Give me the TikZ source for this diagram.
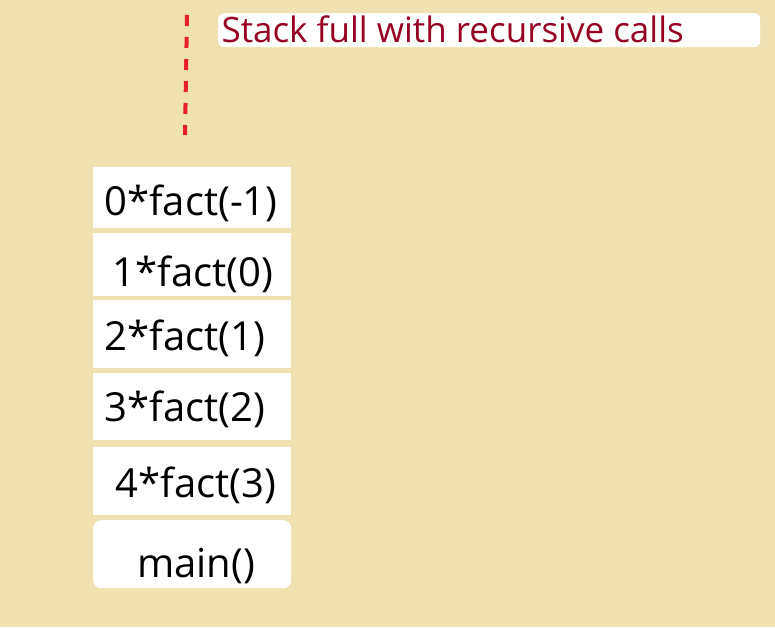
\documentclass[tikz,border=0pt]{standalone}
\usepackage{fontspec}
\setmainfont{Open Sans}
\definecolor{paper}{RGB}{239,226,176}
\definecolor{dashred}{RGB}{232,32,44}
\definecolor{titlered}{RGB}{150,0,32}
\tikzset{
	frame/.style={fill=white,draw=none,minimum width=198pt,anchor=north west,inner sep=0pt},
	call/.style={font=\fontsize{40}{46}\selectfont}
}
\begin{document}
\begin{tikzpicture}[x=1pt,y=-1pt]
	\fill[paper] (0,0) rectangle (775,627);
	\useasboundingbox (0,0) rectangle (775,627);
	% stack frames, top to bottom
	\node[frame,minimum height=61pt] (f1) at (93,167) {};
	\node[frame,minimum height=63pt] (f2) at (93,233) {};
	\node[frame,minimum height=68pt] (f3) at (93,300) {};
	\node[frame,minimum height=67pt] (f4) at (93,373) {};
	\node[frame,minimum height=68pt] (f5) at (93,447) {};
	\node[frame,minimum height=68pt,rounded corners=8pt] (f6) at (93,520) {};
	\node[call] (t1) at (191,203) {0*fact(-1)};
	\node[call] (t2) at (193,274) {1*fact(0)};
	\node[call] (t3) at (185,338) {2*fact(1)};
	\node[call] (t4) at (185,409) {3*fact(2)};
	\node[call] (t5) at (196,485) {4*fact(3)};
	\node[call] (t6) at (196,566) {main()};
	% label on top
	\node[fill=white,minimum width=542pt,minimum height=34pt,anchor=north west,inner sep=0pt,rounded corners=6pt] (lbox) at (218,13) {};
	\node[font=\fontsize{35}{40}\selectfont,text=titlered,anchor=west] (title) at (218,29) {Stack full with recursive calls};
	\coordinate (top) at (187,15);
	\coordinate (bot) at (185,135);
	\draw[dashred,line width=4pt,dash pattern=on 11pt off 11pt] (top) -- (bot);
\end{tikzpicture}
\end{document}
